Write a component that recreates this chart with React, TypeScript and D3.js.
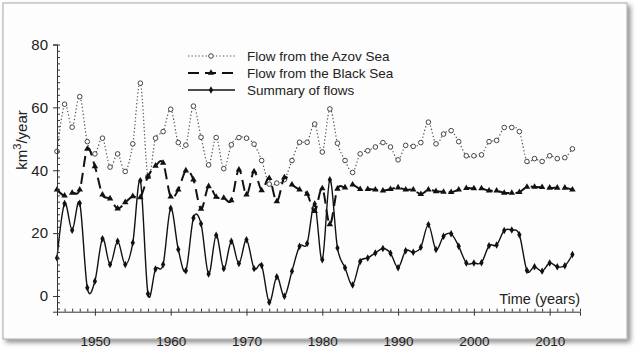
import React, { useEffect, useRef } from "react";
import * as d3 from "d3";

const years = d3.range(1945, 2014);

const azov = [
  46, 61, 53.7, 63.4, 49.1, 45.2, 50.2, 41, 45.2, 39.6, 48.4, 67.7, 38, 50.2,
  52.3, 59.4, 48.8, 48, 60.4, 50.5, 41.7, 50.4, 40.5, 48.1, 50.4, 50.2, 48.3,
  43.1, 35.6, 35.9, 37, 43.1, 48.9, 48.9, 54.7, 45.8, 59.5, 48.6, 43.1, 39.3,
  45.2, 46.2, 47.4, 48.8, 47.4, 43.3, 47.9, 47.6, 48.8, 55.3, 48.4, 51.5, 52.6,
  49.1, 44.6, 44.6, 44.9, 49.1, 49.5, 53.6, 53.6, 52.3, 42.8, 43.7, 42.8, 44.6,
  43.7, 44, 46.8,
];

const blackSea = [
  33.8, 31.9, 32.8, 33.8, 46.8, 41.2, 32.2, 31, 27.8, 29.8, 31.7, 31.4, 38,
  41.4, 42.3, 31.6, 33.8, 39.9, 37, 27.7, 34.9, 31.5, 31.2, 30.4, 40.2, 32.2,
  39.6, 33.6, 37.5, 30.1, 37.7, 35.4, 33.8, 32.5, 27, 34.2, 22.8, 34.1, 34.5,
  35.4, 34, 34, 33.8, 33.5, 34, 34.5, 33.8, 33.8, 32.4, 33.8, 33.3, 33.1, 33,
  33.8, 34.3, 34.2, 34.2, 33.5, 33.5, 32.8, 32.8, 33, 34.7, 34.7, 34.6, 34.4,
  34.4, 34.4, 33.8,
];

const summary = [
  12.1, 29.4, 20.9, 29.5, 2.6, 4.7, 18.2, 10, 17.4, 10, 16.9, 36.7, 0.7, 8.6,
  10, 27.9, 14.8, 8, 24.8, 23, 7, 19.3, 8.7, 17.4, 10.3, 17.9, 8.7, 9.7, -2,
  6.1, -0.1, 7.9, 15.8, 16.7, 29.3, 11.5, 37, 15.3, 9, 3.5, 11, 12.1, 13.7,
  15.1, 13.6, 9, 14.4, 13.9, 15.5, 22.7, 14.8, 19, 19.8, 15.8, 10.5, 10.5,
  10.6, 16, 16.2, 20.8, 21, 19.5, 8.1, 9.3, 7.9, 10.5, 9.3, 9.6, 13.2,
];

const yTicks = [0, 20, 40, 60, 80];
const xTicks = [1950, 1960, 1970, 1980, 1990, 2000, 2010];
const legendLabels = [
  "Flow from the Azov Sea",
  "Flow from the Black Sea",
  "Summary of flows",
];

const font = "'Liberation Sans', Arial, sans-serif";

const App = () => {
  const svgRef = useRef<SVGSVGElement>(null);

  const x = d3.scaleLinear().domain([1945, 2014]).range([57, 580]);
  const y = d3.scaleLinear().domain([-5, 80]).range([311.7, 44.5]);

  useEffect(() => {
    const svg = d3.select(svgRef.current);

    // y axis: major ticks outside, minor inside
    const yAxis = svg.select<SVGGElement>(".y-axis").attr("transform", `translate(${x.range()[0]},0)`);
    yAxis.call(d3.axisLeft(y).tickValues(yTicks).tickSize(4).tickPadding(5));
    const yMinor = svg.select<SVGGElement>(".y-minor").attr("transform", `translate(${x.range()[0]},0)`);
    yMinor.call(
      d3.axisRight(y).tickValues(d3.range(-4, 81, 2)).tickSize(3).tickFormat(() => "")
    );
    yMinor.select(".domain").remove();

    const base = y.range()[0];
    const xAxis = svg.select<SVGGElement>(".x-axis").attr("transform", `translate(0,${base})`);
    xAxis.call(d3.axisBottom(x).tickValues(xTicks).tickSize(4).tickPadding(21).tickFormat(d3.format("d")));
    const xMinor = svg.select<SVGGElement>(".x-minor").attr("transform", `translate(0,${base})`);
    xMinor.call(
      d3.axisTop(x).tickValues(d3.range(1945, 2015)).tickSize(3).tickFormat(() => "")
    );
    xMinor.select(".domain").remove();

    svg.selectAll(".axis text").attr("font-family", font).attr("fill", "#222");
    svg.selectAll(".y-axis text").attr("font-size", 15);
    svg.selectAll(".x-axis text").attr("font-size", 13.5);
    svg.selectAll(".axis path, .axis line").attr("stroke", "#333");
  }, []);

  const line = (vals: number[]) =>
    d3
      .line<number>()
      .x((_, i) => x(years[i]))
      .y((d) => y(d))
      .curve(d3.curveCardinal.tension(0))(vals) as string;

  const tri = d3.symbol().type(d3.symbolTriangle).size(18)() as string;
  const dia = d3.symbol().type(d3.symbolDiamond).size(16)() as string;

  const legendX = 188;
  const legendY = [56, 73, 90];

  return (
    <svg
      ref={svgRef}
      width={638}
      height={353}
      style={{ position: "absolute", left: 0, top: 0, background: "#fff" }}
    >
      <defs>
        <filter id="shadow" x="-5%" y="-5%" width="115%" height="115%">
          <feDropShadow dx="3" dy="3" stdDeviation="2.5" floodColor="#000" floodOpacity="0.45" />
        </filter>
      </defs>
      <rect x={3} y={3} width={624} height={336} fill="#fdfdfd" stroke="#a8a8a8" filter="url(#shadow)" />

      {/* Azov */}
      <path d={line(azov)} fill="none" stroke="#555" strokeWidth={1.2} strokeDasharray="1.3,2.2" />
      {azov.map((v, i) => (
        <circle key={"a" + i} cx={x(years[i])} cy={y(v)} r={2.3} fill="#fff" stroke="#444" strokeWidth={1} />
      ))}

      {/* Black Sea */}
      <path d={line(blackSea)} fill="none" stroke="#111" strokeWidth={2} strokeDasharray="11,6" />
      {blackSea.map((v, i) => (
        <path key={"b" + i} d={tri} transform={`translate(${x(years[i])},${y(v)})`} fill="#111" />
      ))}

      {/* Summary */}
      <path d={line(summary)} fill="none" stroke="#111" strokeWidth={1.4} />
      {summary.map((v, i) => (
        <path key={"s" + i} d={dia} transform={`translate(${x(years[i])},${y(v)})`} fill="#111" />
      ))}

      <g className="axis y-axis" />
      <g className="axis y-minor" />
      <g className="axis x-axis" />
      <g className="axis x-minor" />

      {/* legend */}
      <g fontFamily={font} fontSize={13.5} fill="#222">
        <line x1={legendX} x2={legendX + 47} y1={legendY[0]} y2={legendY[0]} stroke="#555" strokeWidth={1.2} strokeDasharray="1.3,2.2" />
        <circle cx={legendX + 23} cy={legendY[0]} r={2.3} fill="#fff" stroke="#444" />
        <line x1={legendX} x2={legendX + 47} y1={legendY[1]} y2={legendY[1]} stroke="#111" strokeWidth={2} strokeDasharray="11,6" />
        <path d={tri} transform={`translate(${legendX + 23},${legendY[1]})`} fill="#111" />
        <line x1={legendX} x2={legendX + 47} y1={legendY[2]} y2={legendY[2]} stroke="#111" strokeWidth={1.4} />
        <path d={dia} transform={`translate(${legendX + 23},${legendY[2]})`} fill="#111" />
        {legendLabels.map((t, i) => (
          <text key={t} x={247} y={legendY[i] + 5}>
            {t}
          </text>
        ))}
      </g>

      <text x={580} y={304} textAnchor="end" fontFamily={font} fontSize={14.5} fill="#222">
        Time (years)
      </text>

      <text
        transform="translate(27,140) rotate(-90)"
        textAnchor="middle"
        fontFamily={font}
        fontSize={15}
        fill="#222"
      >
        km<tspan dy={-6} fontSize={11}>3</tspan>
        <tspan dy={6}>/year</tspan>
      </text>
    </svg>
  );
};

export default App;
